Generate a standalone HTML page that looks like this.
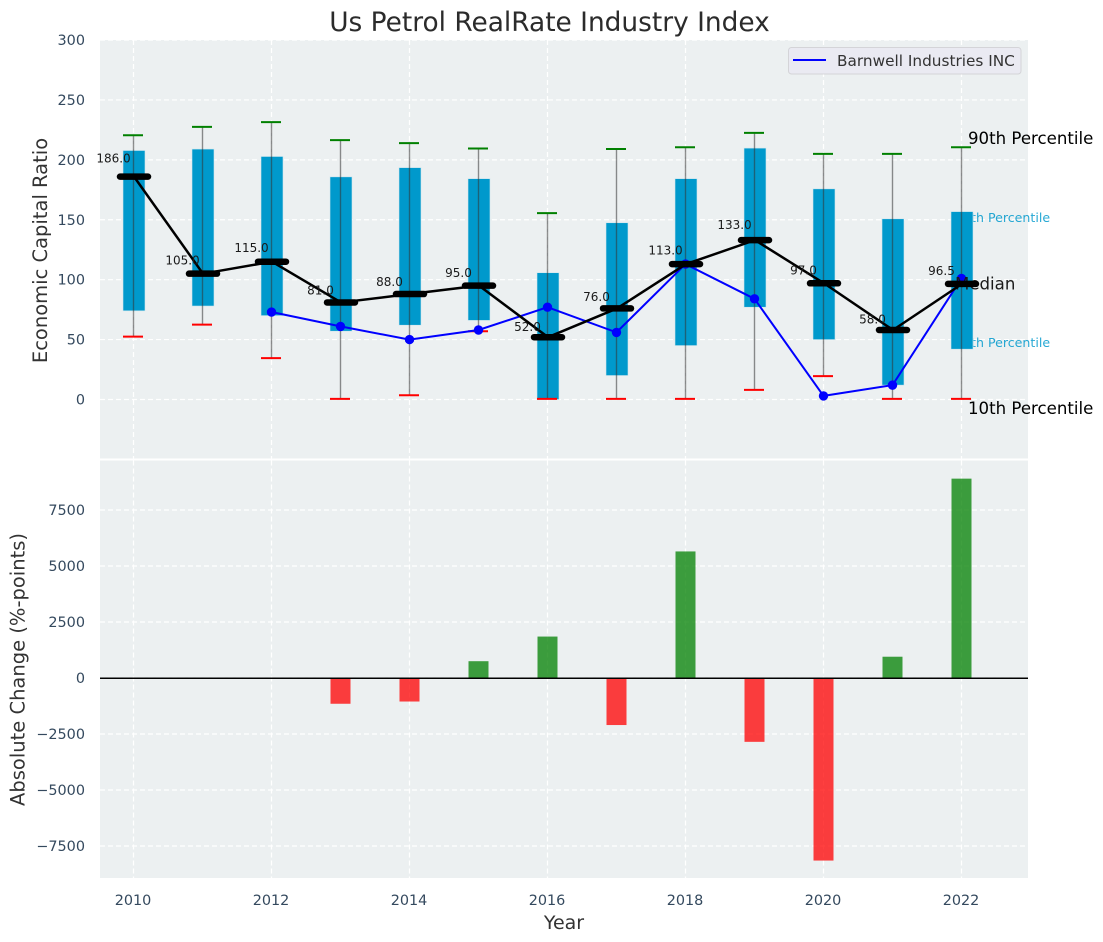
<!DOCTYPE html>
<html lang="en">
<head>
<meta charset="utf-8">
<title>Us Petrol RealRate Industry Index</title>
<style>
html,body{margin:0;padding:0;background:#fff;}
svg{display:block;font-family:"DejaVu Sans","Liberation Sans",sans-serif;}
</style>
</head>
<body>
<svg id="chart" xmlns="http://www.w3.org/2000/svg" width="1103" height="942" viewBox="0 0 1103 942">
  <rect x="0" y="0" width="1103" height="942" fill="#ffffff"/>
  <text x="549.5" y="31" font-size="26.4" text-anchor="middle" fill="#2b2b2b">Us Petrol RealRate Industry Index</text>
  <rect x="100" y="40" width="928" height="418.5" fill="#ecf0f1"/>
  <rect x="100" y="460.5" width="928" height="417.5" fill="#ecf0f1"/>
  <g id="grid"></g>
  <g id="ticks"></g>
  <text transform="translate(47,250.5) rotate(-90)" font-size="19.5" text-anchor="middle" fill="#333333">Economic Capital Ratio</text>
  <text transform="translate(24.5,669.5) rotate(-90)" font-size="19.5" text-anchor="middle" fill="#333333">Absolute Change (%-points)</text>
  <text x="564" y="929" font-size="19" text-anchor="middle" fill="#333333">Year</text>
  <text x="955" y="222" font-size="12.6" fill="#0099cc" fill-opacity="0.85">75th Percentile</text>
  <text x="955" y="347" font-size="12.6" fill="#0099cc" fill-opacity="0.85">25th Percentile</text>
  <g id="marks"></g>
  <text x="968" y="144" font-size="16.6" fill="#000000">90th Percentile</text>
  <text x="968" y="414" font-size="16.6" fill="#000000">10th Percentile</text>
  <g id="overlay"></g>
  <g>
    <rect x="788.5" y="47.5" width="232.5" height="26.5" rx="3" fill="#eaeaf2" stroke="#d4d4d8" stroke-width="1"/>
    <line x1="793" y1="60" x2="826" y2="60" stroke="#0000ff" stroke-width="2"/>
    <text x="837" y="66" font-size="15.3" fill="#333333">Barnwell Industries INC</text>
  </g>
</svg>
<script>
const years = [2010,2011,2012,2013,2014,2015,2016,2017,2018,2019,2020,2021,2022];
const p90 = [220.5,227.5,231.5,216.5,214,209.5,155.5,209,210.5,222.5,205,205,210.5];
const p75 = [207.8,209,202.8,185.8,193.5,184.3,105.8,147.5,184.3,209.8,175.8,150.8,156.8];
const p25 = [74,78,70,57,62,66,0,20,45,77,50,12,42];
const p10 = [52.5,62.5,34.5,0.5,3.5,57,0.5,0.5,0.5,8,19.5,0.5,0.5];
const medians = [186,105,115,81,88,95,52,76,113,133,97,58,96.5];
const companyYears = [2012,2013,2014,2015,2016,2017,2018,2019,2020,2021,2022];
const companyValues = [73,61,50,58,77,56,113,84,3,12,101];
const changeYears = [2013,2014,2015,2016,2017,2018,2019,2020,2021,2022];
const changeValues = [-1150,-1050,750,1850,-2100,5650,-2850,-8150,950,8900];
const topTicks = [0,50,100,150,200,250,300];
const bottomTicks = [-7500,-5000,-2500,0,2500,5000,7500];
const xTicks = [2010,2012,2014,2016,2018,2020,2022];

const NS = 'http://www.w3.org/2000/svg';
function xScale(v){ return 133.5 + (v - 2010) * 69; }
function yTop(v){ return 399.5 - v * 1.1983; }
function yBottom(v){ return 678 - v * 0.0224; }
function make(tag, props, parent){
  const el = document.createElementNS(NS, tag);
  for (const k in props) el.setAttribute(k, props[k]);
  parent.appendChild(el);
  return el;
}
const grid = document.getElementById('grid');
const ticks = document.getElementById('ticks');
const marks = document.getElementById('marks');
const overlay = document.getElementById('overlay');
const gridStyle = {stroke:'#ffffff','stroke-width':1.2,'stroke-dasharray':'5 3'};

topTicks.forEach(function(t){
  const g = make('line', Object.assign({x1:100,x2:1028,y1:yTop(t),y2:yTop(t)}, gridStyle), grid);
  
  
  const l = make('text', {x:85,y:yTop(t)+5,'font-size':14.4,'text-anchor':'end',fill:'#34495e'}, ticks);
  
  
  l.textContent = String(t);
});
bottomTicks.forEach(function(t){
  const g = make('line', Object.assign({x1:100,x2:1028,y1:yBottom(t),y2:yBottom(t)}, gridStyle), grid);
  
  
  const l = make('text', {x:85,y:yBottom(t)+5,'font-size':14.4,'text-anchor':'end',fill:'#34495e'}, ticks);
  
  
  l.textContent = String(t).replace('-', '\u2212');
});
xTicks.forEach(function(t){
  const a = make('line', Object.assign({x1:xScale(t),x2:xScale(t),y1:40,y2:458.5}, gridStyle), grid);
  
  
  const b = make('line', Object.assign({x1:xScale(t),x2:xScale(t),y1:460.5,y2:878}, gridStyle), grid);
  
  
  const l = make('text', {x:xScale(t)-0.5,y:905,'font-size':14.4,'text-anchor':'middle',fill:'#34495e'}, ticks);
  
  
  l.textContent = String(t);
});

years.forEach(function(yr, i){
  const x = xScale(yr);
  const box = make('rect', {x:x-10.5,y:yTop(p75[i]),width:22,height:yTop(p25[i])-yTop(p75[i]),fill:'#0099cc',stroke:'#cfe6ee','stroke-width':0.6}, marks);
  
  
  const w = make('line', {x1:x,x2:x,y1:yTop(p90[i]),y2:yTop(p10[i]),stroke:'#333333','stroke-opacity':0.55,'stroke-width':1.4}, marks);
  
  
  const c1 = make('line', {x1:x-10.5,x2:x+9.5,y1:yTop(p90[i]),y2:yTop(p90[i]),stroke:'#008000','stroke-width':2}, marks);
  
  
  const c2 = make('line', {x1:x-10.5,x2:x+9.5,y1:yTop(p10[i]),y2:yTop(p10[i]),stroke:'#ff0000','stroke-width':2}, marks);
  
  
});

changeYears.forEach(function(yr, i){
  const v = changeValues[i];
  const y0 = yBottom(Math.max(v, 0));
  const y1 = yBottom(Math.min(v, 0));
  const b = make('rect', {x:xScale(yr)-10,y:y0,width:20,height:y1-y0,fill:v>=0?'#008000':'#ff0000','fill-opacity':0.75}, marks);
  
  
});
const zero = make('line', {x1:100,x2:1028,y1:yBottom(0)+0.3,y2:yBottom(0)+0.3,stroke:'#000000','stroke-width':1.5}, marks);



const companyPts = companyYears.map(function(yr, i){ return xScale(yr) + ',' + yTop(companyValues[i]); }).join(' ');
const companyLine = make('polyline', {points:companyPts,fill:'none',stroke:'#0000ff','stroke-width':2}, overlay);


companyYears.forEach(function(yr, i){
  const p = make('circle', {cx:xScale(yr),cy:yTop(companyValues[i]),r:4.7,fill:'#0000ff'}, overlay);
  
  
});

const medianNote = make('text', {x:955,y:289.5,'font-size':16.6,fill:'#1a1a1a'}, overlay);


medianNote.textContent = 'Median';

const medianPts = years.map(function(yr, i){ return (xScale(yr)+0.5) + ',' + yTop(medians[i]); }).join(' ');
const medianLine = make('polyline', {points:medianPts,fill:'none',stroke:'#000000','stroke-width':2.5,'stroke-linejoin':'round'}, overlay);



years.forEach(function(yr, i){
  const x = xScale(yr)+0.5;
  const y = yTop(medians[i]);
  const m = make('line', {x1:x-14,x2:x+14,y1:y,y2:y,stroke:'#000000','stroke-width':6.5,'stroke-linecap':'round'}, overlay);
  
  
  const t = make('text', {x:x-20.5,y:yTop(medians[i]*1.05)-3,'font-size':12,'text-anchor':'middle',fill:'#1a1a1a'}, overlay);
  
  
  t.textContent = medians[i].toFixed(1);
});
</script>
</body>
</html>
